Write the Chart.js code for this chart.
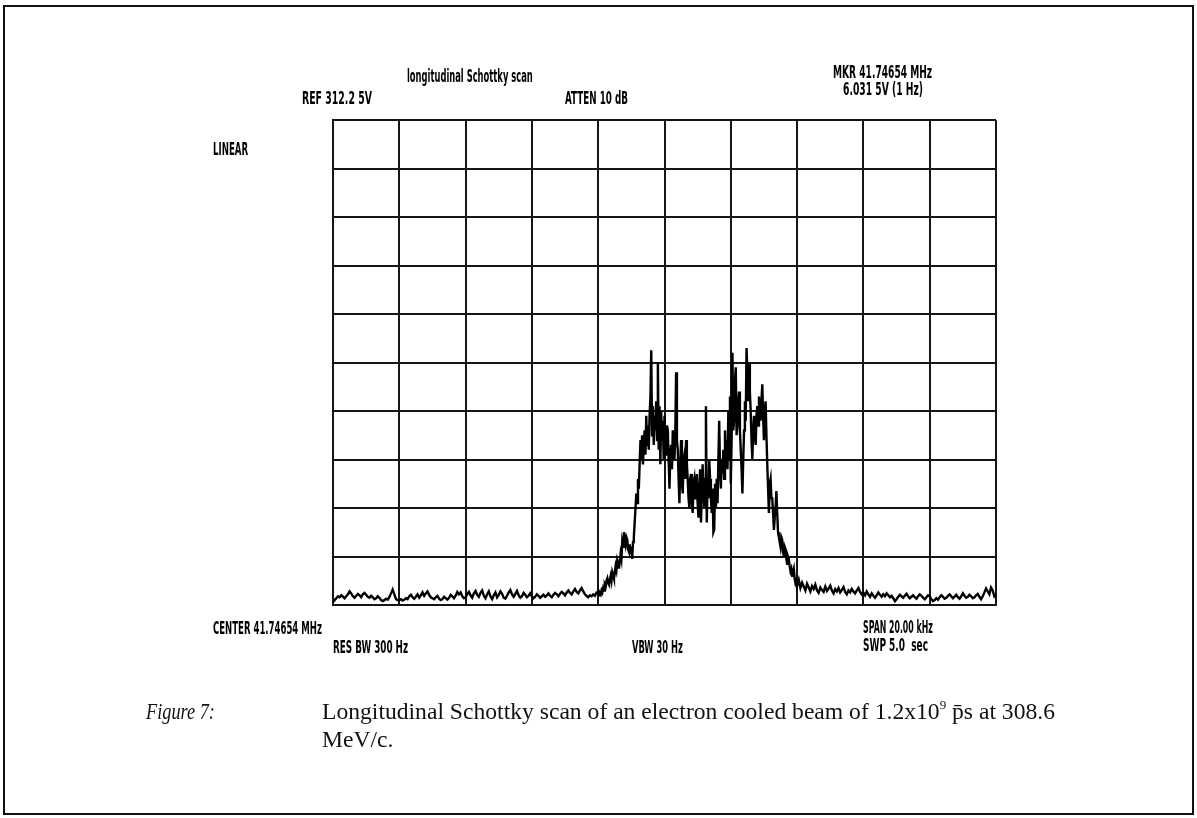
<!DOCTYPE html>
<html>
<head>
<meta charset="utf-8">
<title>Longitudinal Schottky scan</title>
<script src="https://cdn.jsdelivr.net/npm/chart.js@4"></script>
<style>
  body { margin: 0; background: #fff; }
  #page { position: relative; width: 1197px; height: 818px; overflow: hidden; background: #fff; }
  #frame { position: absolute; left: 3px; top: 5px; width: 1191px; height: 810px; border: 2px solid #111; box-sizing: border-box; }
  #myChart { position: absolute; left: 0; top: 0; }
  .lbl { position: absolute; font-family: "DejaVu Sans"; font-weight: bold; font-size: 17px; line-height: 1;
         white-space: nowrap; transform-origin: 0 50%; color: #000; }
  .cap { position: absolute; font-family: "Liberation Serif"; font-size: 22px; line-height: 1; white-space: nowrap;
         color: #111; transform-origin: 0 50%; }
  .cap sup { font-size: 0.55em; vertical-align: 0.75em; line-height: 0; }
</style>
</head>
<body>
<div id="page">
  <div id="frame"></div>
  <canvas id="myChart" width="1197" height="818"></canvas>

  <div class="lbl" data-x="407" data-y="76" data-w="126">longitudinal Schottky scan</div>
  <div class="lbl" data-x="302" data-y="98" data-w="70">REF 312.2 5V</div>
  <div class="lbl" data-x="565" data-y="98" data-w="63">ATTEN 10 dB</div>
  <div class="lbl" data-x="833" data-y="72" data-w="99">MKR 41.74654 MHz</div>
  <div class="lbl" data-x="843" data-y="89" data-w="80">6.031 5V (1 Hz)</div>
  <div class="lbl" data-x="213" data-y="149" data-w="35">LINEAR</div>
  <div class="lbl" data-x="213" data-y="628" data-w="109">CENTER 41.74654 MHz</div>
  <div class="lbl" data-x="333" data-y="647" data-w="75">RES BW 300 Hz</div>
  <div class="lbl" data-x="632" data-y="647" data-w="51">VBW 30 Hz</div>
  <div class="lbl" data-x="863" data-y="627" data-w="70">SPAN 20.00 kHz</div>
  <div class="lbl" data-x="863" data-y="645" data-w="65">SWP 5.0&nbsp;&nbsp;sec</div>

  <div class="cap" id="capFig" style="left:146px; font-style:italic;">Figure 7:</div>
  <div class="cap" id="cap1" style="left:322px;">Longitudinal Schottky scan of an electron cooled beam of 1.2x10<sup>9</sup> p̄s at 308.6</div>
  <div class="cap" id="cap2" style="left:322px;">MeV/c.</div>
</div>

<script>
// sweep: 20 kHz span around 41.74654 MHz
const centerMHz = 41.74654;
const spanKHz = 20;
const wingStepKHz = 0.05;   // 40 samples per division
const peakStepKHz = 0.025;  // 80 samples per division

// amplitude in screen divisions (0 = bottom, 10 = top)
// low wing: -10 .. -2 kHz
const wingLowAmp = [
  0.06,0.10,0.14,0.18,0.16,0.20,0.17,0.14,0.18,0.22,0.28,0.24,0.18,0.15,0.19,0.23,0.20,0.16,0.22,0.25,
  0.21,0.17,0.15,0.19,0.16,0.12,0.14,0.18,0.15,0.10,0.08,0.10,0.13,0.11,0.16,0.24,0.32,0.22,0.12,0.10,
  0.10,0.12,0.09,0.11,0.14,0.12,0.18,0.21,0.16,0.13,0.17,0.22,0.15,0.20,0.26,0.19,0.24,0.28,0.21,0.16,
  0.14,0.12,0.16,0.19,0.13,0.10,0.12,0.17,0.14,0.11,0.15,0.21,0.18,0.14,0.19,0.27,0.22,0.26,0.18,0.14,
  0.16,0.22,0.27,0.20,0.15,0.24,0.29,0.21,0.17,0.25,0.30,0.19,0.14,0.22,0.28,0.18,0.12,0.20,0.26,0.16,
  0.21,0.28,0.23,0.15,0.13,0.19,0.26,0.31,0.22,0.17,0.23,0.29,0.20,0.15,0.18,0.25,0.21,0.16,0.19,0.24,
  0.18,0.14,0.17,0.22,0.19,0.15,0.18,0.21,0.17,0.20,0.24,0.19,0.16,0.21,0.25,0.22,0.18,0.23,0.27,0.24,
  0.20,0.26,0.30,0.25,0.22,0.28,0.33,0.27,0.24,0.30,0.35,0.28,0.22,0.19,0.16,0.20,0.18,0.22,0.19,0.26
];

// beam peak: -2 .. +4 kHz
const peakAmp = [
  0.27,0.20,0.25,0.22,0.30,0.26,0.35,0.30,0.42,0.38,0.50,0.55,0.45,0.42,0.52,0.60,0.50,0.68,0.62,0.55,
  0.65,0.80,0.72,0.92,0.85,0.75,0.88,1.05,0.95,1.30,1.20,1.50,1.35,1.25,1.40,1.35,1.15,1.10,1.25,1.05,
  1.20,0.95,1.30,1.40,1.70,2.00,2.30,2.10,2.60,2.40,2.90,3.40,3.00,3.50,2.90,3.30,3.60,3.10,3.90,3.30,
  3.70,3.20,3.90,4.30,5.25,3.50,4.10,3.30,3.90,3.60,4.20,3.40,5.00,3.20,4.10,2.90,4.00,3.40,3.80,3.00,

  3.90,3.30,3.10,3.70,3.60,3.00,2.40,3.10,3.30,2.80,3.60,3.20,3.00,3.50,4.80,3.40,3.20,2.60,2.10,2.90,
  3.40,2.50,2.30,3.00,3.10,2.60,3.40,2.90,2.60,2.20,2.00,2.60,2.70,2.10,1.90,2.50,2.60,2.20,2.30,2.70,
  2.10,1.80,2.40,2.80,1.70,2.30,2.90,2.40,2.00,2.60,4.10,1.70,2.50,2.20,3.00,2.60,2.20,1.90,2.40,1.50,
  1.55,2.50,2.00,2.60,2.10,3.00,3.80,2.80,2.40,3.00,2.70,3.20,2.60,3.60,2.90,3.40,2.80,4.00,3.00,4.30,

  2.50,3.40,5.20,3.60,3.80,4.60,4.90,3.50,3.70,4.20,4.40,3.60,3.20,2.80,2.30,3.00,3.60,4.20,3.80,5.30,
  4.80,4.20,5.00,4.40,4.00,3.40,3.00,3.60,3.90,3.50,3.30,3.90,4.10,3.70,4.30,4.00,3.80,4.20,4.55,3.90,
  3.40,4.00,4.20,3.50,2.90,2.40,1.90,2.50,2.60,2.20,2.20,1.90,1.55,1.80,2.00,2.35,1.90,1.50,1.40,1.30,
  1.20,1.40,1.35,1.10,1.00,1.20,1.15,0.95,0.85,1.00,0.95,0.80,0.70,0.75,0.60,0.68,0.75,0.55,0.45,0.50
];

// high wing: +4 .. +10 kHz
const wingHighAmp = [
  0.40,0.52,0.35,0.46,0.38,0.30,0.44,0.36,0.28,0.39,0.33,0.42,0.30,0.25,0.36,0.31,0.27,0.38,0.29,0.34,
  0.40,0.30,0.24,0.33,0.28,0.35,0.26,0.31,0.37,0.27,0.22,0.30,0.26,0.33,0.28,0.24,0.30,0.35,0.27,0.22,
  0.25,0.20,0.28,0.22,0.17,0.24,0.19,0.15,0.20,0.26,0.21,0.17,0.22,0.18,0.24,0.20,0.16,0.19,0.14,0.08,
  0.12,0.17,0.21,0.18,0.15,0.19,0.23,0.18,0.14,0.17,0.20,0.16,0.13,0.18,0.22,0.19,0.15,0.12,0.16,0.20,
  0.18,0.12,0.08,0.10,0.14,0.11,0.16,0.20,0.17,0.13,0.15,0.19,0.22,0.18,0.14,0.17,0.21,0.16,0.13,0.18,
  0.24,0.19,0.15,0.17,0.21,0.18,0.14,0.16,0.20,0.23,0.17,0.12,0.18,0.26,0.34,0.28,0.22,0.36,0.30,0.18,
  0.22
];

// frequency offset (kHz) of each sample
const toPoints = (amps, startKHz, stepKHz) => amps.map((v, i) => ({ x: startKHz + i * stepKHz, y: v }));
const points = [
  ...toPoints(wingLowAmp, -10, wingStepKHz),
  ...toPoints(peakAmp, -2, peakStepKHz),
  ...toPoints(wingHighAmp, 4, wingStepKHz)
];

const gridLine = { color: '#161616', lineWidth: 2, drawTicks: false };
const axisBorder = { color: '#161616', width: 2 };

const ctx = document.getElementById('myChart');

new Chart(ctx, {
  type: 'line',
  data: {
    datasets: [{
      label: 'Schottky signal',
      data: points,
      borderColor: '#000',
      borderWidth: 2.4,
      pointRadius: 0,
      tension: 0,
      fill: false
    }]
  },
  options: {
    responsive: false,
    animation: false,
    layout: { padding: { left: 333, right: 201, top: 120, bottom: 213 } },
    plugins: {
      legend: { display: false },
      tooltip: { enabled: false }
    },
    scales: {
      x: {
        type: 'linear', min: -spanKHz / 2, max: spanKHz / 2,
        ticks: { display: false, stepSize: 2 },
        grid: gridLine,
        border: axisBorder
      },
      y: {
        min: 0, max: 10,
        ticks: { display: false, stepSize: 1 },
        grid: gridLine,
        border: axisBorder
      }
    }
  }
});

// squeeze the analyser screen labels into their narrow width
document.querySelectorAll('.lbl').forEach(el => {
  const w = el.offsetWidth, h = el.offsetHeight;
  el.style.left = el.dataset.x + 'px';
  el.style.top = (el.dataset.y - h / 2) + 'px';
  el.style.transform = 'scaleX(' + (el.dataset.w / w) + ')';
});

// caption: first line spans 322..1055 px
const cap1 = document.getElementById('cap1');
const capSize = 22 * 733 / cap1.offsetWidth;
const capFig = document.getElementById('capFig');
const cap2 = document.getElementById('cap2');
[capFig, cap1, cap2].forEach(el => { el.style.fontSize = capSize + 'px'; });
capFig.style.transform = 'scaleX(' + (69 / capFig.offsetWidth) + ')';
capFig.style.top = (712 - capSize / 2) + 'px';
cap1.style.top = (712 - capSize / 2) + 'px';
cap2.style.top = (740 - capSize / 2) + 'px';
</script>
</body>
</html>
